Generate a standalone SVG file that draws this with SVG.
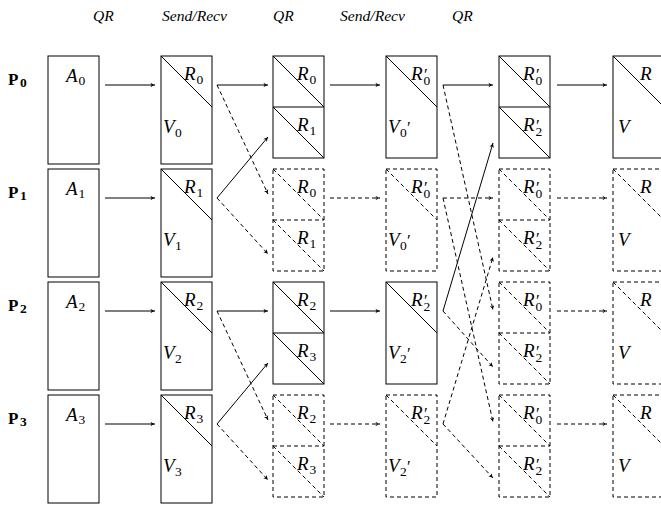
<svg xmlns="http://www.w3.org/2000/svg" width="661" height="506" viewBox="0 0 661 506">
<style>
.bx{fill:none;stroke:#000;stroke-width:1}
.dbx{fill:none;stroke:#000;stroke-width:1;stroke-dasharray:4 3}
.s{fill:none;stroke:#000;stroke-width:1}
.d{fill:none;stroke:#000;stroke-width:1;stroke-dasharray:4 3}
.hd{font-family:"Liberation Serif","Times New Roman",serif;font-style:italic;font-size:15.6px;fill:#000}
.m{font-family:"Liberation Serif","Times New Roman",serif;font-style:italic;font-size:19px;fill:#000}
.sb{font-family:"Liberation Serif","Times New Roman",serif;font-style:normal;font-size:13.5px}
.pr{font-family:"Liberation Serif","DejaVu Serif",serif;font-style:normal;font-size:17px}
.p{font-family:"Liberation Serif","Times New Roman",serif;font-weight:bold;font-size:17px;fill:#000}
.ps{font-size:13.5px}
</style>
<defs>
<marker id="ah" viewBox="-5 -3 6 6" refX="0" refY="0" markerWidth="6" markerHeight="6" markerUnits="userSpaceOnUse" orient="auto">
<path d="M-4.5,-2.3 Q-2,-0.6 0,0 Q-2,0.6 -4.5,2.3 L-3.4,0 Z" fill="#000"/>
</marker>
</defs>

<g id="headers">
<text class="hd" x="93" y="21">QR</text>
<text class="hd" x="162" y="21">Send/Recv</text>
<text class="hd" x="273" y="21">QR</text>
<text class="hd" x="340" y="21">Send/Recv</text>
<text class="hd" x="452" y="21">QR</text>
</g>

<g id="P0"><text class="p" x="8" y="85">P<tspan class="ps" x="20" y="87">0</tspan></text></g>
<g id="P1"><text class="p" x="8" y="198">P<tspan class="ps" x="20" y="200">1</tspan></text></g>
<g id="P2"><text class="p" x="8" y="311">P<tspan class="ps" x="20" y="313">2</tspan></text></g>
<g id="P3"><text class="p" x="8" y="424">P<tspan class="ps" x="20" y="426">3</tspan></text></g>

<!-- column 1: A -->
<g id="A0"><rect class="bx" x="48" y="56" width="51" height="108"/><text class="m" x="66" y="82">A<tspan class="sb" x="78.5" y="85">0</tspan></text></g>
<g id="A1"><rect class="bx" x="48" y="169" width="51" height="108"/><text class="m" x="66" y="195">A<tspan class="sb" x="78.5" y="198">1</tspan></text></g>
<g id="A2"><rect class="bx" x="48" y="282" width="51" height="108"/><text class="m" x="66" y="308">A<tspan class="sb" x="78.5" y="311">2</tspan></text></g>
<g id="A3"><rect class="bx" x="48" y="395" width="51" height="108"/><text class="m" x="66" y="421">A<tspan class="sb" x="78.5" y="424">3</tspan></text></g>

<!-- column 2: R_i, V_i -->
<g id="QR0"><rect class="bx" x="161" y="56" width="51" height="108"/><line class="s" x1="161" y1="56" x2="212" y2="107"/>
<text class="m" x="184" y="80">R<tspan class="sb" x="196.5" y="83.5">0</tspan></text>
<text class="m" x="163" y="133">V<tspan class="sb" x="175" y="136.5">0</tspan></text></g>
<g id="QR1"><rect class="bx" x="161" y="169" width="51" height="108"/><line class="s" x1="161" y1="169" x2="212" y2="220"/>
<text class="m" x="184" y="193">R<tspan class="sb" x="196.5" y="196.5">1</tspan></text>
<text class="m" x="163" y="246">V<tspan class="sb" x="175" y="249.5">1</tspan></text></g>
<g id="QR2"><rect class="bx" x="161" y="282" width="51" height="108"/><line class="s" x1="161" y1="282" x2="212" y2="333"/>
<text class="m" x="184" y="306">R<tspan class="sb" x="196.5" y="309.5">2</tspan></text>
<text class="m" x="163" y="359">V<tspan class="sb" x="175" y="362.5">2</tspan></text></g>
<g id="QR3"><rect class="bx" x="161" y="395" width="51" height="108"/><line class="s" x1="161" y1="395" x2="212" y2="446"/>
<text class="m" x="184" y="419">R<tspan class="sb" x="196.5" y="422.5">3</tspan></text>
<text class="m" x="163" y="472">V<tspan class="sb" x="175" y="475.5">3</tspan></text></g>

<!-- column 3: stacked R pairs -->
<g id="RR0"><rect class="bx" x="273" y="56" width="51" height="102"/><line class="s" x1="273" y1="107" x2="324" y2="107"/>
<line class="s" x1="273" y1="56" x2="324" y2="107"/><line class="s" x1="273" y1="107" x2="324" y2="158"/>
<text class="m" x="297" y="80">R<tspan class="sb" x="309.5" y="83.5">0</tspan></text>
<text class="m" x="297" y="131">R<tspan class="sb" x="309.5" y="134.5">1</tspan></text></g>
<g id="RR1"><rect class="dbx" x="273" y="169" width="51" height="102"/><line class="d" x1="273" y1="220" x2="324" y2="220"/>
<line class="d" x1="273" y1="169" x2="324" y2="220"/><line class="d" x1="273" y1="220" x2="324" y2="271"/>
<text class="m" x="297" y="193">R<tspan class="sb" x="309.5" y="196.5">0</tspan></text>
<text class="m" x="297" y="244">R<tspan class="sb" x="309.5" y="247.5">1</tspan></text></g>
<g id="RR2"><rect class="bx" x="273" y="282" width="51" height="102"/><line class="s" x1="273" y1="333" x2="324" y2="333"/>
<line class="s" x1="273" y1="282" x2="324" y2="333"/><line class="s" x1="273" y1="333" x2="324" y2="384"/>
<text class="m" x="297" y="306">R<tspan class="sb" x="309.5" y="309.5">2</tspan></text>
<text class="m" x="297" y="357">R<tspan class="sb" x="309.5" y="360.5">3</tspan></text></g>
<g id="RR3"><rect class="dbx" x="273" y="395" width="51" height="102"/><line class="d" x1="273" y1="446" x2="324" y2="446"/>
<line class="d" x1="273" y1="395" x2="324" y2="446"/><line class="d" x1="273" y1="446" x2="324" y2="497"/>
<text class="m" x="297" y="419">R<tspan class="sb" x="309.5" y="422.5">2</tspan></text>
<text class="m" x="297" y="470">R<tspan class="sb" x="309.5" y="473.5">3</tspan></text></g>

<!-- column 4: R', V' -->
<g id="QRb0"><rect class="bx" x="386" y="56" width="51" height="102"/><line class="s" x1="386" y1="56" x2="437" y2="107"/>
<text class="m" x="411" y="80">R<tspan class="pr" x="424" y="80">′</tspan><tspan class="sb" x="423.5" y="84.5">0</tspan></text>
<text class="m" x="388" y="133">V<tspan class="sb" x="400" y="136.5">0</tspan><tspan class="pr" x="407" y="133">′</tspan></text></g>
<g id="QRb1"><rect class="dbx" x="386" y="169" width="51" height="102"/><line class="d" x1="386" y1="169" x2="437" y2="220"/>
<text class="m" x="411" y="193">R<tspan class="pr" x="424" y="193">′</tspan><tspan class="sb" x="423.5" y="197.5">0</tspan></text>
<text class="m" x="388" y="246">V<tspan class="sb" x="400" y="249.5">0</tspan><tspan class="pr" x="407" y="246">′</tspan></text></g>
<g id="QRb2"><rect class="bx" x="386" y="282" width="51" height="102"/><line class="s" x1="386" y1="282" x2="437" y2="333"/>
<text class="m" x="411" y="306">R<tspan class="pr" x="424" y="306">′</tspan><tspan class="sb" x="423.5" y="310.5">2</tspan></text>
<text class="m" x="388" y="359">V<tspan class="sb" x="400" y="362.5">2</tspan><tspan class="pr" x="407" y="359">′</tspan></text></g>
<g id="QRb3"><rect class="dbx" x="386" y="395" width="51" height="102"/><line class="d" x1="386" y1="395" x2="437" y2="446"/>
<text class="m" x="411" y="419">R<tspan class="pr" x="424" y="419">′</tspan><tspan class="sb" x="423.5" y="423.5">2</tspan></text>
<text class="m" x="388" y="472">V<tspan class="sb" x="400" y="475.5">2</tspan><tspan class="pr" x="407" y="472">′</tspan></text></g>

<!-- column 5: stacked R' pairs -->
<g id="RRb0"><rect class="bx" x="499" y="56" width="51" height="102"/><line class="s" x1="499" y1="107" x2="550" y2="107"/>
<line class="s" x1="499" y1="56" x2="550" y2="107"/><line class="s" x1="499" y1="107" x2="550" y2="158"/>
<text class="m" x="523" y="80">R<tspan class="pr" x="536" y="80">′</tspan><tspan class="sb" x="535.5" y="84.5">0</tspan></text>
<text class="m" x="523" y="131">R<tspan class="pr" x="536" y="131">′</tspan><tspan class="sb" x="535.5" y="135.5">2</tspan></text></g>
<g id="RRb1"><rect class="dbx" x="499" y="169" width="51" height="102"/><line class="d" x1="499" y1="220" x2="550" y2="220"/>
<line class="d" x1="499" y1="169" x2="550" y2="220"/><line class="d" x1="499" y1="220" x2="550" y2="271"/>
<text class="m" x="523" y="193">R<tspan class="pr" x="536" y="193">′</tspan><tspan class="sb" x="535.5" y="197.5">0</tspan></text>
<text class="m" x="523" y="244">R<tspan class="pr" x="536" y="244">′</tspan><tspan class="sb" x="535.5" y="248.5">2</tspan></text></g>
<g id="RRb2"><rect class="dbx" x="499" y="282" width="51" height="102"/><line class="d" x1="499" y1="333" x2="550" y2="333"/>
<line class="d" x1="499" y1="282" x2="550" y2="333"/><line class="d" x1="499" y1="333" x2="550" y2="384"/>
<text class="m" x="523" y="306">R<tspan class="pr" x="536" y="306">′</tspan><tspan class="sb" x="535.5" y="310.5">0</tspan></text>
<text class="m" x="523" y="357">R<tspan class="pr" x="536" y="357">′</tspan><tspan class="sb" x="535.5" y="361.5">2</tspan></text></g>
<g id="RRb3"><rect class="dbx" x="499" y="395" width="51" height="102"/><line class="d" x1="499" y1="446" x2="550" y2="446"/>
<line class="d" x1="499" y1="395" x2="550" y2="446"/><line class="d" x1="499" y1="446" x2="550" y2="497"/>
<text class="m" x="523" y="419">R<tspan class="pr" x="536" y="419">′</tspan><tspan class="sb" x="535.5" y="423.5">0</tspan></text>
<text class="m" x="523" y="470">R<tspan class="pr" x="536" y="470">′</tspan><tspan class="sb" x="535.5" y="474.5">2</tspan></text></g>

<!-- column 6: R, V -->
<g id="QRc0"><rect class="bx" x="613" y="56" width="51" height="102"/><line class="s" x1="613" y1="56" x2="664" y2="107"/>
<text class="m" x="640" y="80">R</text><text class="m" x="618" y="133">V</text></g>
<g id="QRc1"><rect class="dbx" x="613" y="169" width="51" height="102"/><line class="d" x1="613" y1="169" x2="664" y2="220"/>
<text class="m" x="640" y="193">R</text><text class="m" x="618" y="246">V</text></g>
<g id="QRc2"><rect class="dbx" x="613" y="282" width="51" height="102"/><line class="d" x1="613" y1="282" x2="664" y2="333"/>
<text class="m" x="640" y="306">R</text><text class="m" x="618" y="359">V</text></g>
<g id="QRc3"><rect class="dbx" x="613" y="395" width="51" height="102"/><line class="d" x1="613" y1="395" x2="664" y2="446"/>
<text class="m" x="640" y="419">R</text><text class="m" x="618" y="472">V</text></g>

<g id="connectors">
<!-- QR 1 -->
<line class="s" x1="105" y1="85" x2="155" y2="85" marker-end="url(#ah)"/>
<line class="s" x1="105" y1="198" x2="155" y2="198" marker-end="url(#ah)"/>
<line class="s" x1="105" y1="311" x2="155" y2="311" marker-end="url(#ah)"/>
<line class="s" x1="105" y1="424" x2="155" y2="424" marker-end="url(#ah)"/>
<!-- Send/Recv 1 -->
<line class="s" x1="217" y1="85" x2="268" y2="85" marker-end="url(#ah)"/>
<line class="d" x1="217" y1="85" x2="268" y2="194" marker-end="url(#ah)"/>
<line class="s" x1="217" y1="198" x2="268" y2="137" marker-end="url(#ah)"/>
<line class="d" x1="217" y1="198" x2="268" y2="254" marker-end="url(#ah)"/>
<line class="s" x1="217" y1="311" x2="268" y2="311" marker-end="url(#ah)"/>
<line class="d" x1="217" y1="311" x2="268" y2="420" marker-end="url(#ah)"/>
<line class="s" x1="217" y1="424" x2="268" y2="363" marker-end="url(#ah)"/>
<line class="d" x1="217" y1="424" x2="268" y2="480" marker-end="url(#ah)"/>
<!-- QR 2 -->
<line class="s" x1="330" y1="85" x2="380" y2="85" marker-end="url(#ah)"/>
<line class="d" x1="330" y1="198" x2="380" y2="198" marker-end="url(#ah)"/>
<line class="s" x1="330" y1="311" x2="380" y2="311" marker-end="url(#ah)"/>
<line class="d" x1="330" y1="424" x2="380" y2="424" marker-end="url(#ah)"/>
<!-- Send/Recv 2 -->
<line class="s" x1="443" y1="85" x2="493" y2="85" marker-end="url(#ah)"/>
<line class="d" x1="443" y1="85" x2="493" y2="310" marker-end="url(#ah)"/>
<line class="d" x1="443" y1="198" x2="493" y2="198" marker-end="url(#ah)"/>
<line class="d" x1="443" y1="198" x2="493" y2="422" marker-end="url(#ah)"/>
<line class="s" x1="443" y1="311" x2="493" y2="143" marker-end="url(#ah)"/>
<line class="d" x1="443" y1="311" x2="493" y2="367" marker-end="url(#ah)"/>
<line class="d" x1="443" y1="424" x2="493" y2="257" marker-end="url(#ah)"/>
<line class="d" x1="443" y1="424" x2="493" y2="478" marker-end="url(#ah)"/>
<!-- QR 3 -->
<line class="s" x1="557" y1="85" x2="607" y2="85" marker-end="url(#ah)"/>
<line class="d" x1="557" y1="198" x2="607" y2="198" marker-end="url(#ah)"/>
<line class="d" x1="557" y1="311" x2="607" y2="311" marker-end="url(#ah)"/>
<line class="d" x1="557" y1="424" x2="607" y2="424" marker-end="url(#ah)"/>
</g>
</svg>
